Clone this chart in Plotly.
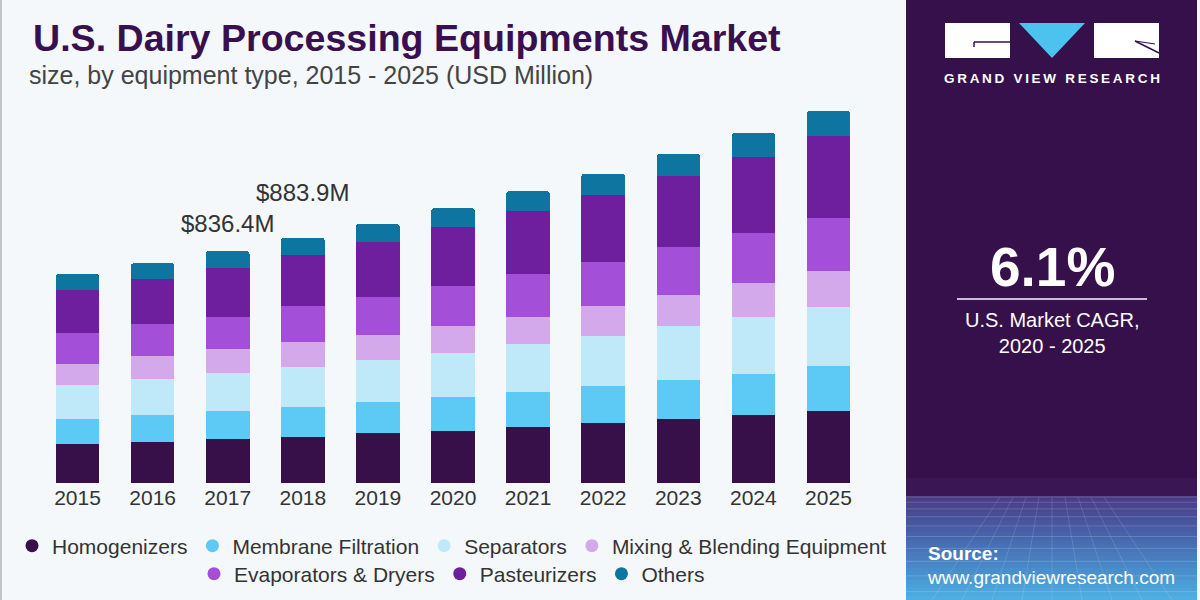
import plotly.graph_objects as go

# ---------------- data ----------------
years = ['2015', '2016', '2017', '2018', '2019', '2020', '2021', '2022', '2023', '2024', '2025']
homogenizers = [141.5, 149.8, 159.5, 167.8, 181.1, 189.5, 201.6, 217.2, 231.6, 246.0, 260.4]
membrane = [90.0, 95.0, 99.7, 106.9, 110.4, 121.2, 127.2, 132.0, 140.4, 148.8, 163.2]
separators = [123.5, 130.7, 138.0, 145.2, 153.6, 159.6, 172.8, 180.0, 193.2, 204.0, 210.4]
mixing = [75.6, 81.7, 85.2, 90.0, 90.0, 97.2, 98.4, 109.2, 112.8, 122.4, 130.8]
evaporators = [111.6, 116.3, 117.4, 128.4, 135.6, 144.0, 153.6, 159.6, 172.8, 181.2, 189.6]
pasteurizers = [154.8, 160.9, 175.3, 183.2, 199.2, 210.2, 226.8, 241.2, 254.4, 273.6, 297.6]
others = [55.4, 57.6, 61.3, 62.4, 63.6, 68.4, 70.8, 75.6, 80.4, 85.2, 88.0]

series_names = ['Homogenizers', 'Membrane Filtration', 'Separators', 'Mixing & Blending Equipment',
                'Evaporators & Dryers', 'Pasteurizers', 'Others']
series_values = [homogenizers, membrane, separators, mixing, evaporators, pasteurizers, others]
series_colors = ['#370f49', '#5ccaf5', '#bfe9f9', '#d4a9ec', '#a44fd7', '#6e1f9e', '#0e74a0']

label_years = ['2017', '2018']
label_texts = ['$836.4M', '$883.9M']
label_shift = [12, 30]

cagr_value = '6.1%'
cagr_text = 'U.S. Market CAGR,<br>2020 - 2025'

W, H = 1200, 600
def px(x):
    return x / W
def py(y):
    return 1 - y / H

FONT = 'Liberation Sans, Arial, sans-serif'

fig = go.Figure()

for name, vals, col in zip(series_names, series_values, series_colors):
    fig.add_trace(go.Bar(x=years, y=vals, name=name, marker=dict(color=col, line=dict(width=0)),
                         showlegend=False, hoverinfo='skip'))

# legend entries (circle markers) on a hidden helper axis, two centred rows
for i, (name, col) in enumerate(zip(series_names, series_colors)):
    fig.add_trace(go.Scatter(x=[0], y=[0], mode='markers', name=name, xaxis='x2', yaxis='y2',
                             marker=dict(color=col, size=13, symbol='circle'), cliponaxis=True,
                             hoverinfo='skip',
                             legend='legend' if i < 4 else 'legend2', showlegend=True))

totals = [sum(v) for v in zip(*series_values)]
annotations = []
for yr, txt, sh in zip(label_years, label_texts, label_shift):
    idx = years.index(yr)
    annotations.append(dict(x=idx, y=totals[idx], xref='x', yref='y', text=txt, showarrow=False,
                            yanchor='bottom', yshift=sh,
                            font=dict(family=FONT, size=24, color='#333333')))

# title / subtitle
annotations.append(dict(x=px(31), y=py(38), xref='paper', yref='paper', xanchor='left', yanchor='middle',
                        text='<b>U.S. Dairy Processing Equipments Market</b>', showarrow=False,
                        font=dict(family=FONT, size=37.6, color='#3a0f4f')))
annotations.append(dict(x=px(27), y=py(75), xref='paper', yref='paper', xanchor='left', yanchor='middle',
                        text='size, by equipment type, 2015 - 2025 (USD Million)', showarrow=False,
                        font=dict(family=FONT, size=25, color='#444444')))

# right panel texts
annotations.append(dict(x=px(1052), y=py(78), xref='paper', yref='paper', xanchor='center', yanchor='middle',
                        text='<b>' + '\u2009'.join('GRAND VIEW RESEARCH') + '</b>', showarrow=False,
                        font=dict(family=FONT, size=13.5, color='#ffffff')))
annotations.append(dict(x=px(1052), y=py(267), xref='paper', yref='paper', xanchor='center', yanchor='middle',
                        text='<b>' + cagr_value + '</b>', showarrow=False,
                        font=dict(family=FONT, size=55, color='#ffffff')))
annotations.append(dict(x=px(1052), y=py(333), xref='paper', yref='paper', xanchor='center', yanchor='middle',
                        text=cagr_text, showarrow=False, align='center',
                        font=dict(family=FONT, size=20, color='#ffffff')))
annotations.append(dict(x=px(926), y=py(553), xref='paper', yref='paper', xanchor='left', yanchor='middle',
                        text='<b>Source:</b>', showarrow=False,
                        font=dict(family=FONT, size=19, color='#ffffff')))
annotations.append(dict(x=px(925), y=py(577), xref='paper', yref='paper', xanchor='left', yanchor='middle',
                        text='www.grandviewresearch.com', showarrow=False,
                        font=dict(family=FONT, size=19, color='#ffffff')))

shapes = []
# left border
shapes.append(dict(type='rect', xref='paper', yref='paper', x0=0, x1=px(2), y0=0, y1=1,
                   fillcolor='#c4c4c4', line=dict(width=0), layer='below'))
# right dark panel
shapes.append(dict(type='rect', xref='paper', yref='paper', x0=px(906), x1=px(1197), y0=0, y1=1,
                   fillcolor='#36104a', line=dict(width=0)))
# slight lighter band
shapes.append(dict(type='rect', xref='paper', yref='paper', x0=px(906), x1=px(1197), y0=py(496), y1=py(478),
                   fillcolor='#3a1754', line=dict(width=0)))

def lerp(c1, c2, t):
    a = [int(c1[i:i + 2], 16) for i in (1, 3, 5)]
    b = [int(c2[i:i + 2], 16) for i in (1, 3, 5)]
    return '#%02x%02x%02x' % tuple(int(round(a[k] + (b[k] - a[k]) * t)) for k in range(3))

stops = [(496, '#4a3d86'), (530, '#4760a8'), (565, '#4889c8'), (601, '#4fb4e6')]
y = 496
step = 4
while y < 600:
    col = stops[-1][1]
    for j in range(len(stops) - 1):
        if stops[j][0] <= y < stops[j + 1][0]:
            t = (y - stops[j][0]) / (stops[j + 1][0] - stops[j][0])
            col = lerp(stops[j][1], stops[j + 1][1], t)
            break
    shapes.append(dict(type='rect', xref='paper', yref='paper', x0=px(906), x1=px(1197),
                       y0=py(min(y + step, 600)), y1=py(y), fillcolor=col, line=dict(width=0)))
    y += step

# faint grid texture
gy = 497
gap = 4
while gy < 600:
    shapes.append(dict(type='line', xref='paper', yref='paper', x0=px(906), x1=px(1197), y0=py(gy), y1=py(gy),
                       line=dict(color='rgba(255,255,255,0.16)', width=1)))
    gap += 1.3
    gy += gap
for k in range(-11, 12):
    xt = 1052 + k * 13
    xb = 1052 + k * 30
    if xb < 906 or xb > 1197:
        continue
    shapes.append(dict(type='line', xref='paper', yref='paper', x0=px(xt), x1=px(xb), y0=py(497), y1=py(600),
                       line=dict(color='rgba(255,255,255,0.13)', width=1)))

# logo
shapes.append(dict(type='rect', xref='paper', yref='paper', x0=px(945), x1=px(1010), y0=py(58), y1=py(23),
                   fillcolor='#ffffff', line=dict(width=0)))
shapes.append(dict(type='path', xref='paper', yref='paper',
                   path='M %f,%f L %f,%f L %f,%f Z' % (px(1019), py(23), px(1085), py(23), px(1052), py(58)),
                   fillcolor='#4cc3ef', line=dict(width=0)))
shapes.append(dict(type='rect', xref='paper', yref='paper', x0=px(1094), x1=px(1159), y0=py(58), y1=py(23),
                   fillcolor='#ffffff', line=dict(width=0)))
shapes.append(dict(type='line', xref='paper', yref='paper', x0=px(974), x1=px(1010), y0=py(42), y1=py(42),
                   line=dict(color='#36104a', width=1.5)))
shapes.append(dict(type='line', xref='paper', yref='paper', x0=px(974), x1=px(974), y0=py(42), y1=py(47),
                   line=dict(color='#36104a', width=1.5)))
shapes.append(dict(type='line', xref='paper', yref='paper', x0=px(1135), x1=px(1159), y0=py(41), y1=py(53),
                   line=dict(color='#36104a', width=1.5)))
shapes.append(dict(type='line', xref='paper', yref='paper', x0=px(1135), x1=px(1155), y0=py(41), y1=py(44),
                   line=dict(color='#36104a', width=1.2)))
# CAGR separator line
shapes.append(dict(type='line', xref='paper', yref='paper', x0=px(957), x1=px(1147), y0=py(299), y1=py(299),
                   line=dict(color='#c9bdd8', width=2)))

fig.update_layout(
    width=W, height=H,
    margin=dict(l=0, r=0, t=0, b=0, pad=0, autoexpand=False),
    paper_bgcolor='#f4f8fb', plot_bgcolor='rgba(0,0,0,0)',
    barmode='stack', bargap=0.42, barcornerradius=3,
    hovermode=False,
    xaxis=dict(type='category', categoryorder='array', categoryarray=years, range=[-0.5, len(years) - 0.5],
               domain=[px(40), px(866)], showgrid=False, zeroline=False, showline=False, automargin=False,
               ticks='', ticklen=0,
               tickfont=dict(family=FONT, size=21, color='#333333')),
    yaxis=dict(range=[0, 1380], domain=[1 - 483.3 / H, 1 - 100 / H], visible=False, automargin=False),
    xaxis2=dict(range=[1, 2], domain=[0, 0.01], visible=False, anchor='y2', automargin=False),
    yaxis2=dict(range=[1, 2], domain=[0, 0.01], visible=False, anchor='x2', automargin=False),
    legend=dict(orientation='h', x=px(452), xanchor='center', y=py(546), yanchor='middle',
                bgcolor='rgba(0,0,0,0)', itemsizing='trace', traceorder='normal',
                font=dict(family=FONT, size=21, color='#333333')),
    legend2=dict(orientation='h', x=px(452), xanchor='center', y=py(574), yanchor='middle',
                 bgcolor='rgba(0,0,0,0)', itemsizing='trace', traceorder='normal',
                 font=dict(family=FONT, size=21, color='#333333')),
    annotations=annotations,
    shapes=shapes,
    showlegend=True,
)

fig.write_html('out.html', config={'displayModeBar': False, 'staticPlot': False},
               post_script="document.body.style.margin='0';document.body.style.overflow='hidden';")
